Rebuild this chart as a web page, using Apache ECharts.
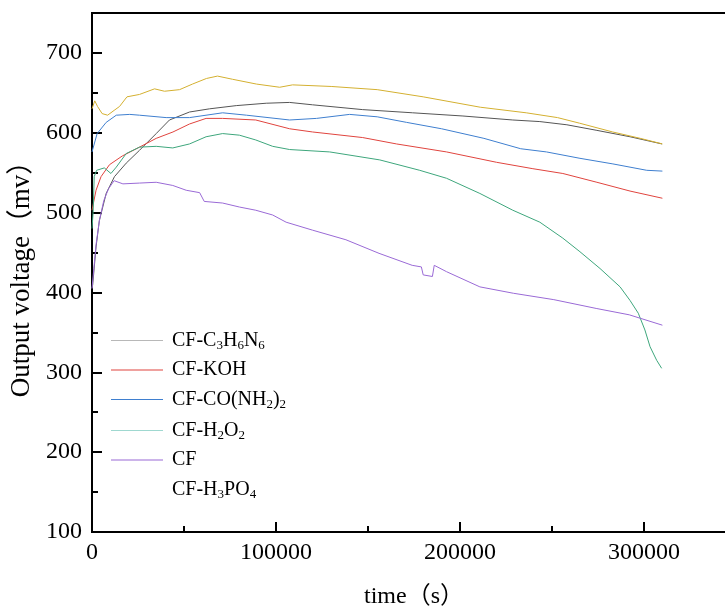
<!DOCTYPE html>
<html>
<head>
<meta charset="utf-8">
<script src="https://cdn.jsdelivr.net/npm/echarts@6/dist/echarts.min.js"></script>
<style>
html, body { margin: 0; background: #fff; }
#box { width: 725px; height: 610px; }
</style>
</head>
<body>
<div id="box"></div>
<script>
// [time (s), output voltage (mv)]
const cfC3H6N6 = [[0,405],[400,410],[2200,457],[4000,490],[7700,524],[12200,545],[18600,562],[25800,578],[34900,599],[42100,616],[53000,626],[63900,630],[78400,634],[94700,637],[107400,638],[119900,635],[147100,629],[174300,625],[201600,621],[228700,616],[243400,614],[258100,610],[274400,603],[292400,595],[309800,586]];
const cfKOH = [[0,503],[2200,528],[4900,545],[9500,560],[16500,571],[25800,582],[34900,593],[44000,601],[53000,611],[62000,618],[71000,618],[89000,616],[107400,605],[119900,601],[147100,594],[165500,586],[192700,576],[219900,563],[239600,555],[255900,549],[274400,538],[292400,527],[310000,518]];
const cfCONH2 = [[0,576],[2800,599],[7700,613],[13200,622],[20500,623],[25800,622],[40300,619],[53000,619],[71000,625],[84000,622],[107400,616],[122000,618],[140000,623],[155000,620],[171000,613],[190000,605],[213000,593],[233000,580],[247000,576],[265200,568],[283100,561],[301500,553],[310000,552]];
const cfH2O2 = [[0,480],[600,500],[1200,545],[2500,553],[6700,556],[10300,549],[13200,557],[18600,574],[25800,582],[34900,583],[43900,581],[53000,586],[62000,595],[71000,599],[80100,597],[89000,591],[98200,583],[107400,579],[129200,576],[156400,566],[178100,553],[192700,543],[210800,524],[228700,503],[243400,488],[255900,468],[265200,451],[276100,430],[287000,407],[292400,390],[296900,374],[300500,353],[303300,332],[306900,315],[309600,305]];
const cf = [[0,405],[1000,430],[2200,460],[4000,490],[6400,515],[9000,530],[12000,540],[16800,536],[25800,537],[34900,538],[43900,534],[51200,528],[58500,525],[61000,514],[71000,512],[80100,507],[89000,503],[98200,497],[105500,488],[119900,478],[138000,466],[156000,449],[174000,434],[179000,432],[180000,422],[185000,420],[186000,434],[192700,426],[210800,407],[229000,399],[251000,391],[274000,380],[292000,372],[310000,359]];
const cfH3PO4 = [[0,630],[1500,640],[3000,633],[5500,624],[8500,622],[12000,628],[15000,633],[19000,645],[25800,648],[34000,655],[39400,652],[47600,654],[54600,661],[62200,668],[68200,671],[76400,667],[89400,661],[102000,657],[109000,660],[130000,658],[155000,654],[180000,645],[211000,632],[236000,625],[253000,619],[265000,612],[283000,601],[298000,593],[310000,586]];

const seriesNames = ['CF-C3H6N6', 'CF-KOH', 'CF-CO(NH2)2', 'CF-H2O2', 'CF', 'CF-H3PO4'];
const seriesData = [cfC3H6N6, cfKOH, cfCONH2, cfH2O2, cf, cfH3PO4];
const seriesColors = ['#555555', '#e0443e', '#3f7fcf', '#3ea67c', '#9a6ad6', '#d4b030'];
const legendColors = ['#b8b8b8', '#e0443e', '#3f7fcf', '#9fd8d0', '#9a6ad6', 'rgba(0,0,0,0)'];
const legendLabels = {
    'CF-C3H6N6': 'CF-C{s|3}H{s|6}N{s|6}',
    'CF-KOH': 'CF-KOH',
    'CF-CO(NH2)2': 'CF-CO(NH{s|2}){s|2}',
    'CF-H2O2': 'CF-H{s|2}O{s|2}',
    'CF': 'CF',
    'CF-H3PO4': 'CF-H{s|3}PO{s|4}'
};

const font = "'Liberation Serif', 'Noto Sans CJK SC', serif";
const myChart = echarts.init(document.getElementById('box'));

const option = {
    animation: false,
    grid: {
        show: true,
        left: 92,
        top: 13,
        width: 644,
        height: 519,
        outerBoundsMode: 'none',
        containLabel: false,
        borderColor: '#000',
        borderWidth: 2,
        backgroundColor: 'transparent'
    },
    legend: {
        orient: 'vertical',
        left: 106,
        top: 324,
        icon: 'rect',
        itemWidth: 52,
        itemHeight: 1,
        itemGap: 8,
        data: seriesNames.map((n, i) => ({ name: n, itemStyle: { color: legendColors[i] } })),
        formatter: n => legendLabels[n],
        textStyle: {
            fontFamily: font,
            fontSize: 20,
            lineHeight: 20,
            color: '#000',
            padding: [0, 0, 0, 4],
            rich: {
                s: { fontFamily: font, fontSize: 13, lineHeight: 13, padding: [10, 0, 0, 0], color: '#000' }
            }
        }
    },
    xAxis: [{
        type: 'value',
        min: 0,
        max: 350000,
        interval: 100000,
        position: 'bottom',
        name: 'time（s）',
        nameLocation: 'middle',
        nameGap: 53,
        nameTextStyle: { fontFamily: font, fontSize: 24, color: '#000' },
        axisLine: { lineStyle: { color: '#000', width: 2 } },
        axisTick: { inside: true, length: 10, lineStyle: { color: '#000', width: 2 } },
        axisLabel: {
            fontFamily: font, fontSize: 24, color: '#000', margin: 9,
            formatter: v => (v % 100000 === 0 ? String(v) : '')
        },
        splitLine: { show: false }
    }, {
        type: 'value',
        min: 0,
        max: 350000,
        interval: 50000,
        position: 'bottom',
        axisLine: { show: false },
        axisTick: { inside: true, length: 6, lineStyle: { color: '#000', width: 2 } },
        axisLabel: { show: false },
        splitLine: { show: false }
    }],
    yAxis: [{
        type: 'value',
        min: 100,
        max: 750,
        interval: 100,
        position: 'left',
        name: 'Output voltage（mv）',
        nameLocation: 'middle',
        nameGap: 52,
        nameTextStyle: { fontFamily: font, fontSize: 27, color: '#000' },
        axisLine: { lineStyle: { color: '#000', width: 2 } },
        axisTick: { inside: true, length: 10, lineStyle: { color: '#000', width: 2 } },
        axisLabel: {
            fontFamily: font, fontSize: 24, color: '#000', margin: 10,
            formatter: v => (v % 100 === 0 ? String(v) : '')
        },
        splitLine: { show: false }
    }, {
        type: 'value',
        min: 100,
        max: 750,
        interval: 50,
        position: 'left',
        axisLine: { show: false },
        axisTick: { inside: true, length: 6, lineStyle: { color: '#000', width: 2 } },
        axisLabel: { show: false },
        splitLine: { show: false }
    }],
    series: seriesNames.map((n, i) => ({
        name: n,
        type: 'line',
        data: seriesData[i],
        symbol: 'none',
        color: seriesColors[i],
        lineStyle: { width: 1, color: seriesColors[i] }
    }))
};
myChart.setOption(option);
</script>
</body>
</html>
